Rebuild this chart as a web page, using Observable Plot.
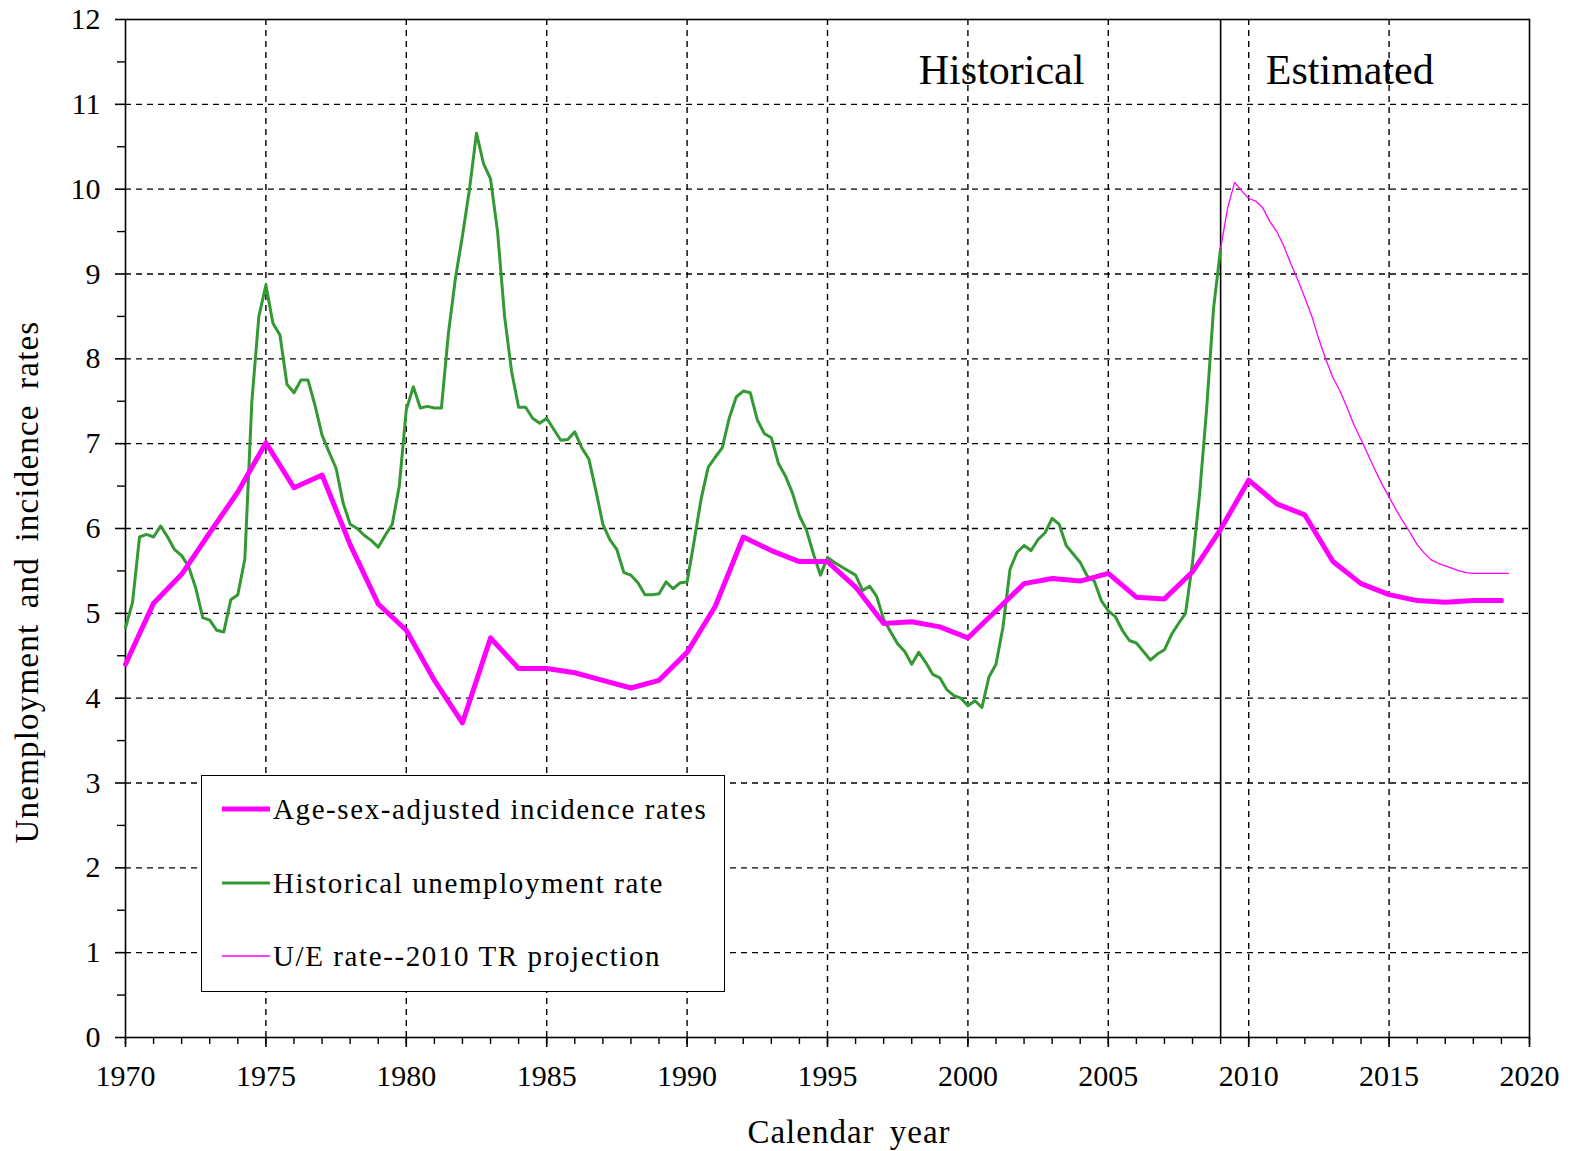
<!DOCTYPE html>
<html>
<head>
<meta charset="utf-8">
<script src="https://cdn.jsdelivr.net/npm/d3@7"></script>
<script src="https://cdn.jsdelivr.net/npm/@observablehq/plot@0.6"></script>
<style>
  html, body { margin: 0; padding: 0; background: #fff; }
  #wrap { position: relative; width: 1575px; height: 1151px; font-family: "Liberation Serif", "Times New Roman", serif; color: #000; }
  #wrap > svg { position: absolute; left: 0; top: 0; }
  .ytitle { position: absolute; left: 27px; top: 582px; transform: translate(-50%, -50%) rotate(-90deg); white-space: nowrap; font-size: 33px; letter-spacing: 1.2px; word-spacing: 6px; }
  .xtitle { position: absolute; left: 849px; top: 1112px; transform: translateX(-50%); white-space: nowrap; font-size: 33px; letter-spacing: 1px; word-spacing: 6px; line-height: 40px; }
  .legend { position: absolute; left: 201px; top: 775px; width: 522px; height: 215px; border: 1.5px solid #000; background: #fff; }
  .legend .row { position: absolute; left: 20px; height: 40px; display: flex; align-items: center; white-space: nowrap; font-size: 29px; letter-spacing: 1.6px; }
  .legend .row svg { position: static; display: block; margin-right: 3px; flex: none; }
</style>
</head>
<body>
<div id="wrap"></div>
<script>
// ---- data ----
const incidenceYears = d3.range(1970, 2020);
const incidenceRates = [4.40, 5.12, 5.46, 5.95, 6.43, 7.01, 6.48, 6.63, 5.81, 5.11,
  4.80, 4.21, 3.71, 4.71, 4.35, 4.35, 4.30, 4.21, 4.12, 4.21,
  4.54, 5.08, 5.90, 5.74, 5.61, 5.61, 5.31, 4.88, 4.90, 4.84,
  4.71, 5.03, 5.35, 5.41, 5.38, 5.47, 5.19, 5.17, 5.49, 5.99,
  6.57, 6.29, 6.16, 5.61, 5.35, 5.22, 5.15, 5.13, 5.15, 5.15];

// quarterly historical unemployment rate, starting 1970 Q1
const unempStart = 1970;
const unempRates = [
  4.83, 5.13, 5.90, 5.93,
  5.90, 6.03, 5.90, 5.75,
  5.68, 5.55, 5.30, 4.95,
  4.92, 4.80, 4.78, 5.16,
  5.22, 5.64, 7.50, 8.50,
  8.87, 8.42, 8.28, 7.70,
  7.60, 7.75, 7.75, 7.45,
  7.10, 6.90, 6.71, 6.30,
  6.05, 6.00, 5.92, 5.86,
  5.78, 5.92, 6.05, 6.50,
  7.40, 7.67, 7.42, 7.44,
  7.42, 7.42, 8.30, 8.95,
  9.45, 10.00, 10.66, 10.30,
  10.12, 9.50, 8.50, 7.85,
  7.43, 7.43, 7.30, 7.24,
  7.30, 7.17, 7.04, 7.05,
  7.14, 6.95, 6.82, 6.45,
  6.05, 5.87, 5.75, 5.48,
  5.45, 5.36, 5.22, 5.22,
  5.23, 5.37, 5.29, 5.36,
  5.37, 5.85, 6.35, 6.72,
  6.84, 6.95, 7.30, 7.55,
  7.62, 7.60, 7.28, 7.12,
  7.07, 6.77, 6.62, 6.42,
  6.15, 5.98, 5.70, 5.45,
  5.66, 5.60, 5.55, 5.50,
  5.45, 5.27, 5.32, 5.20,
  4.93, 4.78, 4.64, 4.55,
  4.40, 4.54, 4.42, 4.28,
  4.24, 4.10, 4.03, 4.00,
  3.91, 3.97, 3.89, 4.25,
  4.40, 4.84, 5.52, 5.72,
  5.80, 5.74, 5.87, 5.95,
  6.12, 6.05, 5.80, 5.70,
  5.60, 5.44, 5.38, 5.15,
  5.03, 4.96, 4.80, 4.68,
  4.65, 4.55, 4.45, 4.52,
  4.57, 4.75, 4.88, 5.00,
  5.60, 6.40, 7.40, 8.60,
  9.30];

// quarterly 2010 Trustees Report projection, starting 2009 Q1
const projStart = 2009;
const projRates = [
  9.30, 9.78, 10.08, 9.98,
  9.89, 9.86, 9.78, 9.62,
  9.50, 9.33, 9.12, 8.93,
  8.72, 8.50, 8.23, 7.99,
  7.78, 7.62, 7.43, 7.22,
  7.05, 6.87, 6.69, 6.52,
  6.37, 6.22, 6.08, 5.95,
  5.81, 5.71, 5.63, 5.59,
  5.56, 5.53, 5.50, 5.48,
  5.47, 5.47, 5.47, 5.47,
  5.47, 5.47];

const xMajorTicks = [1970, 1975, 1980, 1985, 1990, 1995, 2000, 2005, 2010, 2015, 2020];
const xMinorTicks = d3.range(1970, 2021);
const yMajorTicks = [0, 1, 2, 3, 4, 5, 6, 7, 8, 9, 10, 11, 12];
const yMinorTicks = [0.5, 1.5, 2.5, 3.5, 4.5, 5.5, 6.5, 7.5, 8.5, 9.5, 10.5, 11.5];
const xGridLines = [1975, 1980, 1985, 1990, 1995, 2000, 2005, 2010, 2015];
const yGridLines = [1, 2, 3, 4, 5, 6, 7, 8, 9, 10, 11];
const dividerYear = [2009];
const periodLabels = ["Historical", "Estimated"];
const periodLabelX = [2001.2, 2013.6];
const periodLabelY = [11.40, 11.40];

const seriesNames = ["Age-sex-adjusted incidence rates", "Historical unemployment rate", "U/E rate--2010 TR projection"];
const seriesColors = ["#ff00ff", "#339933", "#ff00ff"];
const seriesWidths = [5, 3, 1.3];
const xTitle = "Calendar  year";
const yTitle = "Unemployment  and incidence  rates";

// ---- tables ----
const incidence = incidenceYears.map((t, i) => ({t, v: incidenceRates[i]}));
const unemp = unempRates.map((v, i) => ({t: unempStart + i / 4, v}));
const proj = projRates.map((v, i) => ({t: projStart + i / 4, v}));
const labels = periodLabels.map((text, i) => ({text, x: periodLabelX[i], y: periodLabelY[i]}));

const plot = Plot.plot({
  width: 1575,
  height: 1151,
  marginLeft: 125,
  marginRight: 46,
  marginTop: 19,
  marginBottom: 114,
  style: {fontFamily: "Liberation Serif", fontSize: "30px", color: "#000", background: "transparent", overflow: "visible"},
  x: {domain: [1970, 2020], label: null},
  y: {domain: [0, 12], label: null},
  marks: [
    Plot.ruleX(xGridLines, {stroke: "#000", strokeWidth: 1.4, strokeDasharray: "6,5"}),
    Plot.ruleY(yGridLines, {stroke: "#000", strokeWidth: 1.4, strokeDasharray: "6,5"}),
    Plot.ruleX(dividerYear, {stroke: "#000", strokeWidth: 1.6}),
    Plot.frame({stroke: "#000", strokeWidth: 1.6}),
    Plot.axisX(xMinorTicks, {tickSize: 7, tickFormat: () => "", strokeWidth: 1.4}),
    Plot.axisX(xMajorTicks, {tickSize: 10, tickPadding: 17, tickFormat: d => String(d), strokeWidth: 1.6, fontSize: 30}),
    Plot.axisY(yMinorTicks, {tickSize: 8, tickFormat: () => "", strokeWidth: 1.4}),
    Plot.axisY(yMajorTicks, {tickSize: 10, tickPadding: 15, tickFormat: d => String(d), strokeWidth: 1.6, fontSize: 30}),
    Plot.line(unemp, {x: "t", y: "v", stroke: seriesColors[1], strokeWidth: seriesWidths[1], curve: "linear"}),
    Plot.line(proj, {x: "t", y: "v", stroke: seriesColors[2], strokeWidth: seriesWidths[2], curve: "linear"}),
    Plot.line(incidence, {x: "t", y: "v", stroke: seriesColors[0], strokeWidth: seriesWidths[0], curve: "linear"}),
    Plot.text(labels, {x: "x", y: "y", text: "text", fontSize: 42, textAnchor: "middle", fill: "#000"})
  ]
});

const wrap = document.getElementById("wrap");
wrap.appendChild(plot);

const yt = document.createElement("div");
yt.className = "ytitle";
yt.textContent = yTitle;
wrap.appendChild(yt);

const xt = document.createElement("div");
xt.className = "xtitle";
xt.textContent = xTitle;
wrap.appendChild(xt);

const legend = document.createElement("div");
legend.className = "legend";
const rowTops = [13, 87, 160];
seriesNames.forEach((name, i) => {
  const row = document.createElement("div");
  row.className = "row";
  row.style.top = rowTops[i] + "px";
  const ns = "http://www.w3.org/2000/svg";
  const sw = document.createElementNS(ns, "svg");
  sw.setAttribute("width", "48");
  sw.setAttribute("height", "10");
  const ln = document.createElementNS(ns, "line");
  ln.setAttribute("x1", "0"); ln.setAttribute("x2", "48");
  ln.setAttribute("y1", "5"); ln.setAttribute("y2", "5");
  ln.setAttribute("stroke", seriesColors[i]);
  ln.setAttribute("stroke-width", seriesWidths[i]);
  sw.appendChild(ln);
  row.appendChild(sw);
  const tx = document.createElement("span");
  tx.textContent = name;
  row.appendChild(tx);
  legend.appendChild(row);
});
wrap.appendChild(legend);
</script>
</body>
</html>
